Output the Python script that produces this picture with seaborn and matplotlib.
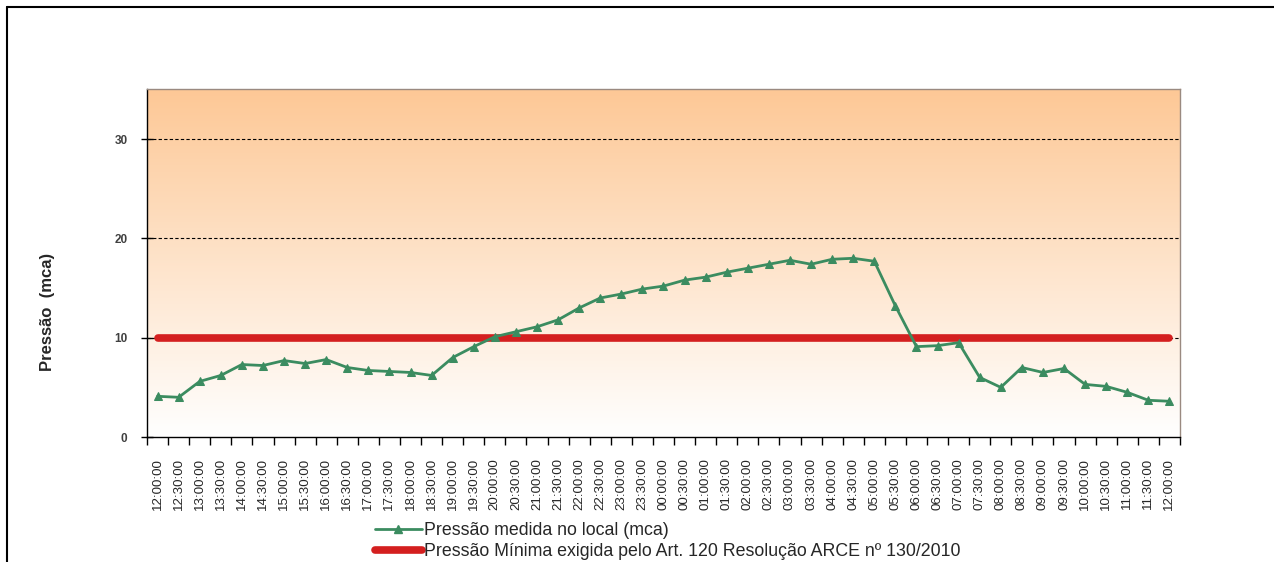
import numpy as np
import pandas as pd
import matplotlib
matplotlib.use('Agg')
import matplotlib.pyplot as plt
from matplotlib.lines import Line2D
import seaborn as sns

# horarios (categorias do eixo x)
horarios = ['12:00:00', '12:30:00', '13:00:00', '13:30:00', '14:00:00', '14:30:00',
            '15:00:00', '15:30:00', '16:00:00', '16:30:00', '17:00:00', '17:30:00',
            '18:00:00', '18:30:00', '19:00:00', '19:30:00', '20:00:00', '20:30:00',
            '21:00:00', '21:30:00', '22:00:00', '22:30:00', '23:00:00', '23:30:00',
            '00:00:00', '00:30:00', '01:00:00', '01:30:00', '02:00:00', '02:30:00',
            '03:00:00', '03:30:00', '04:00:00', '04:30:00', '05:00:00', '05:30:00',
            '06:00:00', '06:30:00', '07:00:00', '07:30:00', '08:00:00', '08:30:00',
            '09:00:00', '09:30:00', '10:00:00', '10:30:00', '11:00:00', '11:30:00',
            '12:00:00']

# pressao medida (mca)
pressao = [4.1, 4.0, 5.6, 6.2, 7.3, 7.2, 7.7, 7.4, 7.8, 7.0, 6.7, 6.6,
           6.5, 6.2, 8.0, 9.1, 10.1, 10.6, 11.1, 11.8, 13.0, 14.0, 14.4, 14.9,
           15.2, 15.8, 16.1, 16.6, 17.0, 17.4, 17.8, 17.4, 17.9, 18.0, 17.7, 13.2,
           9.1, 9.2, 9.5, 6.0, 5.0, 7.0, 6.5, 6.9, 5.3, 5.1, 4.5, 3.7,
           3.6]

pressao_minima = 10
y_ticks = [0, 10, 20, 30]

df = pd.DataFrame({'pos': np.arange(len(horarios)), 'pressao': pressao,
                   'minima': [pressao_minima] * len(horarios)})

sns.set_style('white')
plt.rcParams['font.family'] = ['Liberation Sans', 'DejaVu Sans']

fig = plt.figure(figsize=(12.74, 5.62), dpi=100)
ax = fig.add_axes([0.1154, 0.2224, 0.8108, 0.6184])

# fundo em degrade
grad = np.linspace(0, 1, 256).reshape(-1, 1)
top = np.array([253, 200, 150]) / 255
bot = np.array([255, 255, 255]) / 255
img = top * (1 - grad[..., None]) + bot * grad[..., None]
img = img.reshape(256, 1, 3)
ax.imshow(img, extent=[0, 1, 0, 1], transform=ax.transAxes, aspect='auto', zorder=0)

# linhas de grade tracejadas
for v in y_ticks[1:]:
    ax.axhline(v, color='black', lw=0.8, ls=(0, (3, 2)), zorder=1)

sns.lineplot(data=df, x='pos', y='minima', ax=ax, color='#d41f1f', lw=5.5,
             solid_capstyle='round', zorder=2)
sns.lineplot(data=df, x='pos', y='pressao', ax=ax, color='#3b8c60', lw=2,
             marker='^', markersize=5.5, markeredgecolor='#3b8c60', zorder=3)

ax.set_xlim(-0.5, len(horarios) - 0.5)
ax.set_ylim(0, 35)
ax.set_xticks(df['pos'])
ax.set_xticklabels(horarios, rotation=90, fontsize=9.6)
ax.set_xticks(np.arange(len(horarios) + 1) - 0.5, minor=True)
ax.tick_params(axis='x', which='major', length=0, pad=15)
ax.tick_params(axis='x', which='minor', length=6, width=1, direction='out', bottom=True, color='black')
ax.set_yticks(y_ticks)
ax.set_yticklabels([str(t) for t in y_ticks], fontsize=8.5, fontweight='bold', color='#404040')
ax.tick_params(axis='y', length=8, width=1, direction='inout', left=True, color='black', pad=10)
ax.set_xlabel('')
ax.set_ylabel('Pressão  (mca)', fontsize=12, fontweight='bold')
ax.yaxis.set_label_coords(-0.089, 0.36)

for s in ['left', 'bottom']:
    ax.spines[s].set_color('black')
    ax.spines[s].set_linewidth(1)
for s in ['top', 'right']:
    ax.spines[s].set_color('#9a8a80')
    ax.spines[s].set_linewidth(1)

# legenda
handles = [Line2D([], [], color='#3b8c60', lw=2, marker='^', markersize=5.5),
           Line2D([], [], color='#d41f1f', lw=5.5)]
labels = ['Pressão medida no local (mca)',
          'Pressão Mínima exigida pelo Art. 120 Resolução ARCE nº 130/2010']
fig.legend(handles, labels, loc='upper left', bbox_to_anchor=(0.289, 0.083),
           frameon=False, fontsize=12.8, handlelength=2.6, handletextpad=0.15,
           labelspacing=0.2, borderaxespad=0)

# moldura externa (cortada)
fig.add_artist(Line2D([7 / 1274, 1], [1 - 7 / 562, 1 - 7 / 562], color='black', lw=1.5,
                      transform=fig.transFigure))
fig.add_artist(Line2D([7 / 1274, 7 / 1274], [0, 1 - 7 / 562], color='black', lw=1.5,
                      transform=fig.transFigure))

fig.savefig('out.png', dpi=100)
